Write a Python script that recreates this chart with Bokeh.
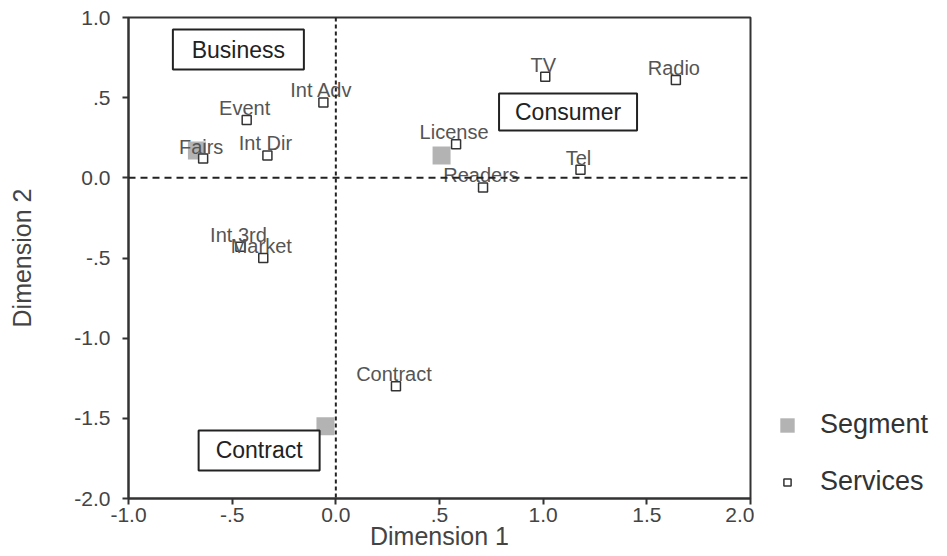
from bokeh.plotting import figure
from bokeh.models import Range1d, FixedTicker, Span, Legend, LegendItem, ColumnDataSource
from bokeh.layouts import row
from bokeh.core.properties import value
from bokeh.embed import file_html
from bokeh.resources import INLINE

# ---- data ----
service_names = ["Int Adv", "Event", "Int Dir", "Fairs", "TV", "Radio",
                 "License", "Tel", "Readers", "Int 3rd", "Market", "Contract"]
service_x = [-0.06, -0.43, -0.33, -0.64, 1.01, 1.64, 0.58, 1.18, 0.71, -0.46, -0.35, 0.29]
service_y = [0.47, 0.36, 0.14, 0.12, 0.63, 0.61, 0.21, 0.05, -0.06, -0.43, -0.50, -1.30]

segment_names = ["Business", "Consumer", "Contract"]
segment_x = [-0.67, 0.51, -0.05]
segment_y = [0.17, 0.14, -1.55]
segment_label_x = [-0.47, 1.12, -0.37]
segment_label_y = [0.80, 0.41, -1.70]

x_ticks = [-1.0, -0.5, 0.0, 0.5, 1.0, 1.5, 2.0]
x_tick_labels = ["-1.0", "-.5", "0.0", ".5", "1.0", "1.5", "2.0"]
y_ticks = [-2.0, -1.5, -1.0, -0.5, 0.0, 0.5, 1.0]
y_tick_labels = ["-2.0", "-1.5", "-1.0", "-.5", "0.0", ".5", "1.0"]

x_title = "Dimension 1"
y_title = "Dimension 2"
legend_labels = ["Segment", "Services"]

FONT = "Liberation Sans"

p = figure(width=754, height=556, x_range=Range1d(-1, 2), y_range=Range1d(-2, 1),
           output_backend="svg", toolbar_location=None,
           min_border_left=128, min_border_right=4, min_border_top=17, min_border_bottom=58)
p.grid.visible = False
p.outline_line_color = "#333333"
p.outline_line_width = 2
p.background_fill_color = "white"
p.border_fill_color = "white"

for ax, ticks, labels in ((p.xaxis[0], x_ticks, x_tick_labels), (p.yaxis[0], y_ticks, y_tick_labels)):
    ax.ticker = FixedTicker(ticks=ticks)
    ax.major_label_overrides = {t: l for t, l in zip(ticks, labels)}
    ax.major_tick_in = 0
    ax.major_tick_out = 6
    ax.minor_tick_in = 0
    ax.minor_tick_out = 0
    ax.major_tick_line_width = 2
    ax.major_tick_line_color = "#333333"
    ax.axis_line_width = 2
    ax.axis_line_color = "#333333"
    ax.major_label_text_font = FONT
    ax.major_label_text_font_size = "21px"
    ax.major_label_text_color = "#444444"
    ax.axis_label_text_font = FONT
    ax.axis_label_text_font_style = "normal"
    ax.axis_label_text_color = "#444444"
    ax.axis_label_text_font_size = "25px"

p.xaxis[0].axis_label = x_title
p.xaxis[0].major_label_standoff = 3
p.xaxis[0].axis_label_standoff = -3
p.yaxis[0].axis_label = y_title
p.yaxis[0].major_label_standoff = 12
p.yaxis[0].axis_label_standoff = 35

# reference lines
p.add_layout(Span(location=0, dimension="height", line_color="#222222", line_width=2, line_dash="4 3"))
p.add_layout(Span(location=0, dimension="width", line_color="#222222", line_width=2, line_dash="7 5"))

svc = ColumnDataSource(dict(x=service_x, y=service_y, name=service_names))
seg = ColumnDataSource(dict(x=segment_x, y=segment_y))
box = ColumnDataSource(dict(x=segment_label_x, y=segment_label_y, name=segment_names,
                            w=[131, 138, 121], h=[40, 37, 40]))

SEG_STYLE = dict(fill_color="#b3b3b3", line_color=None)
SVC_STYLE = dict(marker="square", fill_color="white", line_color="#333333", line_width=1.5)

p.rect(x="x", y="y", width=18, height=18, width_units="screen", height_units="screen",
       source=seg, **SEG_STYLE)
p.scatter(x="x", y="y", size=9, source=svc, **SVC_STYLE)
p.text(x="x", y="y", text="name", source=svc, text_align="center", text_baseline="alphabetic",
       x_offset=-2, y_offset=-12, text_font=value(FONT), text_font_size="20px", text_color="#555555")

p.rect(x="x", y="y", width="w", height="h", width_units="screen", height_units="screen",
       fill_color="white", line_color="#222222", line_width=2, source=box)
p.text(x="x", y="y", text="name", source=box, text_align="center", text_baseline="middle",
       text_font=value(FONT), text_font_size="23px", text_color="#222222")

# ---- legend panel (legend-only glyphs sit outside its visible range) ----
lg = figure(width=193, height=556, x_range=Range1d(0, 1), y_range=Range1d(0, 1),
            output_backend="svg", toolbar_location=None, min_border=0)
lg.axis.visible = False
lg.grid.visible = False
lg.outline_line_color = None
lg.background_fill_color = "white"
lg.border_fill_color = "white"
seg_lr = lg.rect(x=[-9], y=[-9], width=18, height=18, width_units="screen", height_units="screen", **SEG_STYLE)
svc_lr = lg.scatter(x=[-9], y=[-9], size=9, **SVC_STYLE)
legend = Legend(items=[LegendItem(label=legend_labels[0], renderers=[seg_lr]),
                       LegendItem(label=legend_labels[1], renderers=[svc_lr])],
                location=(24, 1), orientation="vertical", padding=0, margin=0, spacing=26,
                glyph_width=18, glyph_height=18, label_height=31, label_standoff=24,
                label_text_font=FONT, label_text_font_size="27px", label_text_color="#333333",
                border_line_color=None, background_fill_alpha=0)
lg.add_layout(legend, "center")

layout = row(p, lg, spacing=0)
open("out.html", "w").write(file_html(layout, INLINE))
